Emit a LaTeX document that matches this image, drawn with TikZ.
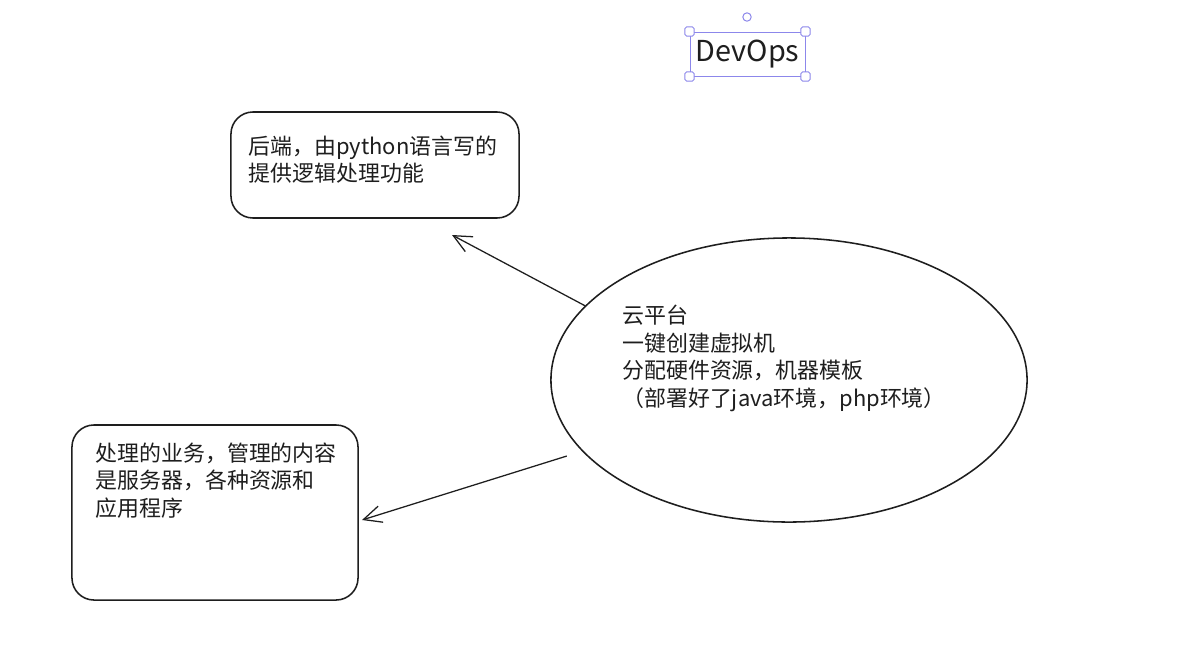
\documentclass[tikz,border=0pt]{standalone}
\usepackage{fontspec}
\setmainfont{Noto Sans CJK SC}
\usepackage{tikz}
\usetikzlibrary{shapes.geometric, arrows.meta, positioning}
\definecolor{ink}{RGB}{30,30,30}
\definecolor{selblue}{RGB}{140,135,235}

\begin{document}
\begin{tikzpicture}[x=0.025cm, y=-0.025cm, node distance=1cm]
        \tikzstyle{box} = [draw=ink, line width=1.1pt, rounded corners=0.55cm, inner sep=0pt]
        \tikzstyle{txt} = [inner sep=0pt, align=left, text=ink, font=\fontsize{15.6}{19.6}\selectfont]
        \tikzstyle{handle} = [draw=selblue, line width=0.7pt, fill=white, rounded corners=1.2pt, minimum size=0.23cm, inner sep=0pt]
        \tikzstyle{pointer} = [-{Straight Barb[length=0.45cm, width=0.42cm]}, line width=0.9pt, draw=ink]
        \path[fill=white] (0,0) rectangle (1181,658);
        \useasboundingbox (0,0) rectangle (1181,658);
        % selected title
        \node[draw=selblue, line width=0.7pt, minimum width=2.875cm, minimum height=1.1cm, inner sep=0pt, text=ink, font=\fontsize{20.5}{24}\selectfont] (devops) at (747.5,54) {DevOps};
        \foreach \c in {north west, north east, south west, south east}
            \node[handle] at (devops.\c) {};
        \node[draw=selblue, line width=0.7pt, circle, minimum size=0.21cm, inner sep=0pt] (rot) at (747,17) {};
        % boxes
        \node[box, minimum width=7.2cm, minimum height=2.65cm] (backend) at (375,165) {};
        \node[txt, below right=0.6cm and 0.45cm of backend.north west] (backtext) {后端，由python语言写的\\提供逻辑处理功能};
        \node[box, minimum width=7.15cm, minimum height=4.375cm] (ops) at (215,512.5) {};
        \node[txt, below right=0.45cm and 0.6cm of ops.north west] (opstext) {处理的业务，管理的内容\\是服务器，各种资源和\\应用程序};
        % cloud
        \node[draw=ink, line width=1.1pt, ellipse, minimum width=11.9cm, minimum height=7.1cm, inner sep=0pt] (cloud) at (789,380) {};
        \node[txt, anchor=north west] (cloudtext) at (622,305) {云平台\\一键创建虚拟机\\分配硬件资源，机器模板\\（部署好了java环境，php环境）};
        % arrows
        \coordinate (backtip) at (452,235);
        \coordinate (opstip) at (362,520);
        \draw[pointer] (cloud.160) -- (backtip);
        \draw[pointer, shorten <=0.4cm] (cloud.199) -- (opstip);
\end{tikzpicture}
\end{document}
